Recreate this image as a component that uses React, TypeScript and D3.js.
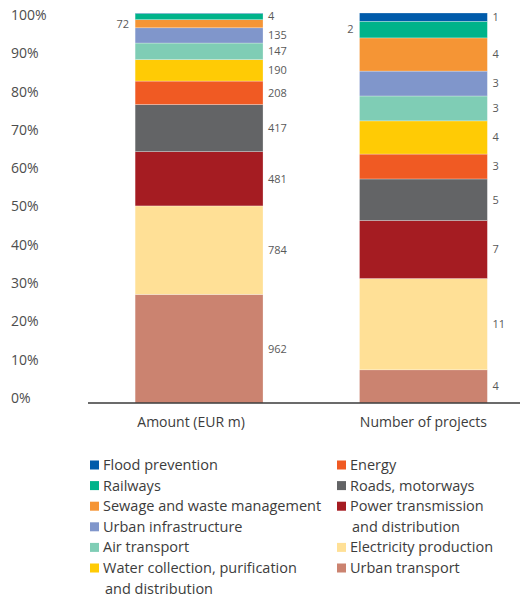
import React from "react";
import * as d3 from "d3";

// Sectors, bottom of stack to top
const sectors = [
  "Urban transport",
  "Electricity production",
  "Power transmission and distribution",
  "Roads, motorways",
  "Energy",
  "Water collection, purification and distribution",
  "Air transport",
  "Urban infrastructure",
  "Sewage and waste management",
  "Railways",
  "Flood prevention",
];
const colors = [
  "#CB8370",
  "#FFE096",
  "#A51C22",
  "#636466",
  "#F05A23",
  "#FFCB05",
  "#7FCDB5",
  "#8096CB",
  "#F59535",
  "#00B38A",
  "#005BAA",
];
const categories = ["Amount (EUR m)", "Number of projects"];
const amountValues = [962, 784, 481, 417, 208, 190, 147, 135, 72, 55, 4];
const amountLabels = ["962", "784", "481", "417", "208", "190", "147", "135", "72", "", "4"];
const amountLabelSide = ["r", "r", "r", "r", "r", "r", "r", "r", "l", "r", "r"];
const projectValues = [4, 11, 7, 5, 3, 4, 3, 3, 4, 2, 1];
const projectLabels = ["4", "11", "7", "5", "3", "4", "3", "3", "4", "2", "1"];
const projectLabelSide = ["r", "r", "r", "r", "r", "r", "r", "r", "r", "l", "r"];
const yTicks = [0, 0.1, 0.2, 0.3, 0.4, 0.5, 0.6, 0.7, 0.8, 0.9, 1];

// Legend layout: column 1 and column 2 (lines)
const legendCol1 = [
  { name: "Flood prevention", lines: ["Flood prevention"] },
  { name: "Railways", lines: ["Railways"] },
  { name: "Sewage and waste management", lines: ["Sewage and waste management"] },
  { name: "Urban infrastructure", lines: ["Urban infrastructure"] },
  { name: "Air transport", lines: ["Air transport"] },
  {
    name: "Water collection, purification and distribution",
    lines: ["Water collection, purification", "and distribution"],
  },
];
const legendCol2 = [
  { name: "Energy", lines: ["Energy"] },
  { name: "Roads, motorways", lines: ["Roads, motorways"] },
  {
    name: "Power transmission and distribution",
    lines: ["Power transmission", "and distribution"],
  },
  { name: "Electricity production", lines: ["Electricity production"] },
  { name: "Urban transport", lines: ["Urban transport"] },
];

const FONT = "'Open Sans', 'Noto Sans', sans-serif";

export default function App() {
  const W = 520;
  const H = 599;
  const y = d3.scaleLinear().domain([0, 1]).range([403, 13]);
  const yLabel = d3.scaleLinear().domain([0, 1]).range([398, 15]);
  const x = d3
    .scaleBand<string>()
    .domain(categories)
    .range([88, 534.5])
    .paddingInner(0.43)
    .paddingOuter(0.21);
  const colorScale = d3.scaleOrdinal<string, string>().domain(sectors).range(colors);

  const series = [
    { cat: categories[0], values: amountValues, labels: amountLabels, sides: amountLabelSide, dx: -8 },
    { cat: categories[1], values: projectValues, labels: projectLabels, sides: projectLabelSide, dx: 0 },
  ];

  const rowH = 20.6;
  const legendY0 = 465;

  let rowIdx1 = 0;
  let rowIdx2 = 0;

  return (
    <svg
      width={W}
      height={H}
      style={{ position: "absolute", left: 0, top: 0, background: "#fff" }}
      fontFamily={FONT}
    >
      {/* y tick labels */}
      {yTicks.map((t) => (
        <text
          key={t}
          x={11}
          y={yLabel(t)}
          dy="0.35em"
          fontSize={14}
          fill="#4d4d4d"
        >
          {d3.format(".0%")(t)}
        </text>
      ))}

      {/* bars */}
      {series.map((s) => {
        const total = d3.sum(s.values);
        const cum = d3.cumsum(s.values);
        const bx = x(s.cat)!;
        const bw = x.bandwidth();
        return (
          <g key={s.cat}>
            {s.values.map((v, i) => {
              const y0 = (cum[i] - v) / total;
              const y1 = cum[i] / total;
              return (
                <rect
                  key={i}
                  x={bx}
                  y={y(y1)}
                  width={bw}
                  height={y(y0) - y(y1)}
                  fill={colorScale(sectors[i])}
                  stroke="#ffffff"
                  strokeOpacity={0.45}
                  strokeWidth={0.6}
                />
              );
            })}
            {s.values.map((v, i) => {
              if (!s.labels[i]) return null;
              const mid = y((cum[i] - v / 2) / total);
              const right = s.sides[i] === "r";
              return (
                <text
                  key={"l" + i}
                  x={right ? bx + bw + 5 : bx - 6}
                  y={Math.max(mid, 16)}
                  dy="0.35em"
                  textAnchor={right ? "start" : "end"}
                  fontSize={11}
                  fill="#595959"
                >
                  {s.labels[i]}
                </text>
              );
            })}
            <text
              x={bx + bw / 2 + s.dx}
              y={422}
              dy="0.35em"
              textAnchor="middle"
              fontSize={14}
              fill="#3c3c3c"
            >
              {s.cat}
            </text>
          </g>
        );
      })}

      {/* axis line */}
      <line x1={88} x2={520} y1={y(0)} y2={y(0)} stroke="#3a3a3a" strokeWidth={1.3} />

      {/* legend */}
      {legendCol1.map((item) => {
        const ry = legendY0 + rowIdx1 * rowH;
        rowIdx1 += item.lines.length;
        return (
          <g key={item.name}>
            <rect x={90} y={ry - 4.5} width={9} height={9} fill={colorScale(item.name)} />
            {item.lines.map((ln, j) => (
              <text
                key={j}
                x={103 + (j > 0 ? 2 : 0)}
                y={ry + j * rowH}
                dy="0.35em"
                fontSize={14.5}
                fill="#3c3c3c"
              >
                {ln}
              </text>
            ))}
          </g>
        );
      })}
      {legendCol2.map((item) => {
        const ry = legendY0 + rowIdx2 * rowH;
        rowIdx2 += item.lines.length;
        return (
          <g key={item.name}>
            <rect x={337} y={ry - 4.5} width={9} height={9} fill={colorScale(item.name)} />
            {item.lines.map((ln, j) => (
              <text
                key={j}
                x={350 + (j > 0 ? 2 : 0)}
                y={ry + j * rowH}
                dy="0.35em"
                fontSize={14.5}
                fill="#3c3c3c"
              >
                {ln}
              </text>
            ))}
          </g>
        );
      })}
    </svg>
  );
}
